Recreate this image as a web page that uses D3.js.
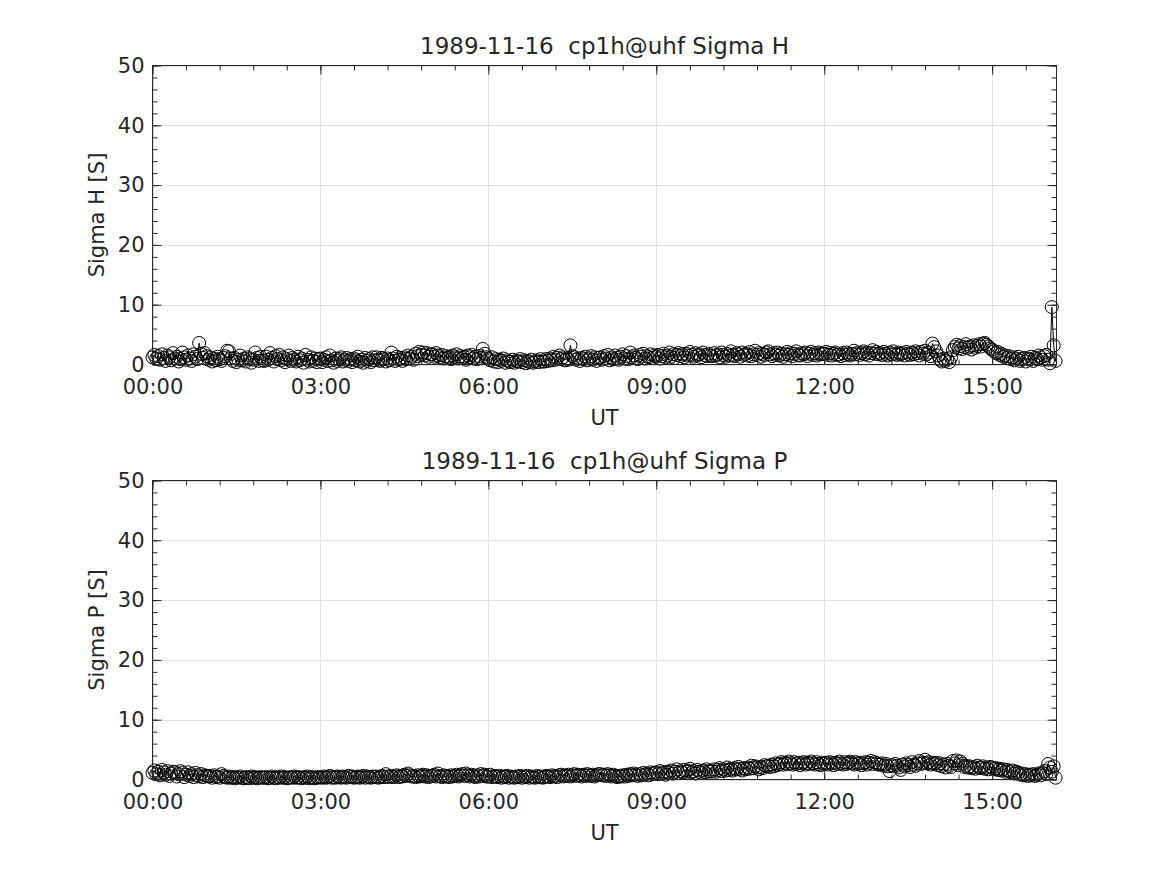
<!DOCTYPE html>
<html lang="en">
<head>
<meta charset="UTF-8">
<title>1989-11-16 cp1h@uhf Sigma H / Sigma P</title>
<script src="https://d3js.org/d3.v7.min.js"></script>
<style>
  body { margin: 0; background: #fff; }
  text { font-family: "DejaVu Sans", sans-serif; fill: #262626; }
</style>
</head>
<body>
<svg id="chart" width="1167" height="875"></svg>
<script>
// ---- data ----
const dateLabel = '1989-11-16';
const experiment = 'cp1h@uhf';
const stepMinutes = 2;           // sampling step, first sample at 00:00
const endMinutes = 969;          // x-axis end (~16:09)
const xTickMinutes = [0, 180, 360, 540, 720, 900];
const yTicks = [0, 10, 20, 30, 40, 50];

// one row per hour (30 samples), last row 16:00-16:08
const sigmaH = [
  1.2,1.6,1.0,1.4,0.8,1.7,1.1,0.6,1.5,1.2,0.7,1.9,1.0,1.3,0.5,0.9,2.0,1.2,0.8,1.5,1.0,0.6,1.7,1.3,0.9,3.6,1.8,1.1,1.9,1.4,
  0.8,1.2,0.5,1.0,0.7,1.3,0.9,0.6,1.1,1.4,2.3,2.2,1.0,0.6,1.1,0.4,0.8,1.5,0.7,1.0,0.5,1.2,0.9,0.3,0.8,2.0,1.1,0.6,1.3,0.7,
  0.6,1.3,0.8,1.9,1.1,0.5,1.4,0.9,1.6,0.7,1.2,0.4,0.9,1.5,0.6,1.1,0.8,0.5,1.3,0.7,1.0,0.3,1.6,0.8,0.5,1.2,0.6,1.0,0.4,0.9,
  1.0,0.4,0.8,1.2,0.6,1.5,0.7,0.3,1.0,0.6,0.9,1.2,0.5,0.8,1.1,0.6,0.9,0.4,1.0,0.7,1.3,0.5,0.8,0.3,1.1,0.6,0.9,0.4,1.2,0.7,
  1.2,0.8,0.6,1.1,0.9,0.5,1.0,0.7,2.0,1.0,0.6,1.3,0.8,1.1,0.6,1.2,0.9,1.5,1.0,1.3,0.8,1.8,1.4,2.1,1.6,2.0,1.5,1.9,1.3,1.7,
  1.7,1.3,1.9,1.5,1.2,1.6,1.0,1.4,1.1,1.3,0.9,1.5,1.2,1.7,1.0,1.4,1.1,1.3,0.8,1.5,1.2,1.6,1.0,1.3,0.9,1.4,1.1,2.6,1.8,1.2,
  1.0,0.7,1.2,0.5,0.9,0.4,0.8,0.6,1.0,0.3,0.7,0.5,0.4,0.8,0.3,0.6,0.5,0.9,0.4,0.7,0.2,0.6,0.4,0.8,0.3,0.5,0.7,0.4,0.9,0.5,
  0.5,0.9,0.6,1.0,0.7,1.3,0.8,1.1,1.5,0.9,1.2,0.7,1.0,0.8,3.2,1.4,1.2,0.8,1.0,0.6,1.1,0.9,1.3,0.7,1.0,1.4,0.8,1.2,0.6,1.1,
  1.2,0.8,1.4,1.0,1.6,0.7,1.2,0.9,1.5,1.1,0.8,1.3,1.7,1.0,1.4,0.9,2.0,1.2,1.5,1.1,0.9,1.6,1.3,1.8,1.0,1.4,1.2,1.7,1.1,1.5,
  1.3,1.6,1.0,1.4,1.8,1.2,1.5,2.0,1.3,1.7,1.1,1.6,1.9,1.4,1.7,1.2,1.8,1.5,2.1,1.6,1.3,1.9,1.5,1.7,1.2,2.0,1.6,1.4,1.8,1.5,
  1.4,1.9,1.5,1.7,1.2,2.0,1.6,1.3,1.8,1.5,2.2,1.6,1.4,1.9,1.7,1.3,2.0,1.6,1.8,1.5,2.1,1.4,1.7,2.3,1.6,1.9,1.3,1.8,1.6,2.0,
  2.2,1.7,1.4,1.9,1.6,2.0,1.5,1.8,1.3,1.7,2.1,1.6,1.9,1.4,1.8,2.2,1.6,1.5,1.9,1.7,2.0,1.4,1.8,2.1,1.6,1.9,1.5,2.0,1.7,1.8,
  1.8,2.1,1.6,1.9,1.5,1.8,2.0,1.6,1.7,1.4,1.9,1.6,2.0,1.7,1.5,1.8,2.3,1.7,2.0,1.6,1.9,2.2,1.7,2.0,1.5,1.9,2.4,1.8,2.1,1.7,
  1.9,1.6,2.1,1.8,1.5,2.0,1.7,2.2,1.8,1.6,2.0,1.7,1.9,1.5,2.1,1.8,1.6,2.0,1.7,2.2,1.9,1.5,2.1,1.8,2.3,1.7,2.0,1.4,3.5,2.9,
  2.2,1.5,0.8,0.5,1.0,0.6,0.9,0.4,1.2,2.4,2.9,3.3,2.7,3.1,2.6,2.9,3.4,2.8,3.0,2.5,3.2,2.8,3.1,3.4,3.0,3.5,3.6,3.3,3.0,2.7,
  2.5,2.2,1.9,2.1,1.6,1.8,1.3,1.5,1.1,1.4,0.9,1.2,0.7,1.0,1.3,0.6,0.9,1.1,0.5,1.0,0.8,1.3,0.6,1.1,0.9,1.5,1.2,0.8,1.4,1.6,
  0.8,0.2,9.6,3.2,0.6
];

const sigmaP = [
  1.1,1.5,0.9,1.3,0.7,1.6,1.2,0.8,1.4,0.6,1.0,1.3,1.2,0.5,0.9,1.4,1.1,0.4,0.8,1.2,0.6,0.9,0.4,1.1,0.7,0.5,0.9,0.4,0.7,0.6,
  0.5,0.6,0.3,0.7,0.4,0.5,0.3,0.9,0.6,0.4,0.3,0.5,0.3,0.4,0.2,0.4,0.3,0.5,0.3,0.2,0.4,0.3,0.2,0.5,0.3,0.4,0.2,0.3,0.4,0.3,
  0.3,0.4,0.2,0.3,0.5,0.3,0.2,0.4,0.3,0.5,0.3,0.4,0.2,0.3,0.4,0.3,0.5,0.3,0.4,0.3,0.2,0.4,0.3,0.5,0.2,0.4,0.3,0.2,0.4,0.3,
  0.4,0.3,0.5,0.3,0.4,0.6,0.3,0.4,0.3,0.5,0.4,0.3,0.5,0.4,0.3,0.6,0.4,0.5,0.3,0.4,0.5,0.3,0.4,0.6,0.3,0.5,0.4,0.3,0.5,0.4,
  0.5,0.3,0.4,0.6,0.4,0.9,0.5,0.4,0.6,0.4,0.5,0.7,0.4,0.6,0.5,0.8,0.6,1.0,0.7,0.5,0.6,0.4,0.7,0.5,0.6,0.8,0.5,0.7,0.4,0.6,
  0.6,0.8,0.5,1.0,0.6,0.4,0.7,0.5,0.6,0.4,0.7,0.5,0.6,0.8,0.5,0.7,0.9,0.6,1.0,0.7,0.5,0.8,0.6,0.4,0.7,0.5,0.9,0.6,0.8,0.5,
  0.5,0.8,0.4,0.6,0.5,0.4,0.6,0.3,0.5,0.4,0.6,0.3,0.5,0.4,0.3,0.5,0.4,0.6,0.3,0.5,0.4,0.6,0.3,0.5,0.4,0.3,0.6,0.4,0.5,0.3,
  0.4,0.6,0.5,0.4,0.7,0.5,0.6,0.4,0.7,0.8,0.5,0.7,0.6,0.8,0.5,0.7,0.9,0.6,0.8,0.7,0.5,0.8,0.6,0.9,0.7,0.6,0.8,0.5,0.7,0.9,
  0.9,0.7,0.8,0.6,0.9,0.7,0.5,0.8,0.6,0.4,0.6,0.5,0.7,0.5,0.8,0.6,0.9,0.7,1.0,0.8,0.6,0.9,0.7,1.1,0.8,1.0,0.7,1.2,0.9,1.1,
  1.2,0.9,1.4,1.0,1.2,0.8,1.3,1.1,1.5,1.0,1.3,1.7,1.1,1.4,1.2,1.6,1.3,1.5,1.8,1.2,1.4,1.0,1.6,1.3,1.1,1.5,1.2,1.7,1.4,1.3,
  1.4,1.7,1.3,1.6,1.9,1.4,1.7,1.5,2.0,1.6,1.8,1.5,1.9,1.7,2.1,1.8,1.5,1.9,1.7,2.0,1.8,2.3,1.9,2.2,2.0,1.7,2.1,1.9,2.4,2.2,
  2.3,2.1,2.5,2.2,2.7,2.4,2.6,2.9,2.5,2.8,2.6,3.0,2.7,2.5,2.9,2.6,2.8,2.4,2.7,2.9,2.5,2.8,2.6,3.0,2.7,2.5,2.9,2.6,2.4,2.8,
  2.6,2.8,2.5,2.9,2.7,2.4,2.8,2.6,3.0,2.7,2.5,2.9,2.6,2.8,3.0,2.7,2.5,2.9,2.6,2.8,2.4,2.7,2.9,2.5,2.8,3.1,2.6,2.9,2.7,2.5,
  2.5,2.7,2.3,2.6,2.2,1.4,2.4,2.2,2.6,2.3,2.0,1.6,2.5,2.2,2.7,2.4,2.1,2.9,2.5,2.3,2.7,3.1,2.6,2.8,3.3,2.7,2.9,2.5,2.8,2.6,
  2.8,2.4,2.7,2.2,2.5,2.0,2.6,2.3,2.1,3.1,2.7,3.2,2.4,3.0,2.6,2.1,2.3,2.0,2.2,1.9,2.1,1.8,2.3,2.0,1.9,2.2,1.8,2.0,1.7,2.1,
  2.0,1.7,1.9,1.6,1.8,1.5,1.7,1.3,1.6,1.4,1.2,1.5,1.0,1.3,1.1,0.8,1.0,0.7,0.9,0.6,0.8,0.7,0.9,0.6,0.8,1.0,0.7,1.1,1.4,0.9,
  2.6,2.0,1.3,2.2,0.3
];

// ---- layout ----
const svg = d3.select('#chart');
const left = 152.5, right = 1056.5, plotH = 299;
const ink = '#262626';

const panels = [
  { name: 'Sigma H', values: sigmaH, top: 65.5 },
  { name: 'Sigma P', values: sigmaP, top: 480.5 }
];

const x = d3.scaleLinear().domain([0, endMinutes]).range([left, right]);
const fmtTime = m => d3.format('02d')(Math.floor(m / 60)) + ':' + d3.format('02d')(m % 60);
const xMinor = d3.range(0, endMinutes, 36);
const yMinor = d3.range(0, 51, 2);

panels.forEach(p => {
  const y = d3.scaleLinear().domain([0, 50]).range([p.top + plotH, p.top]);
  const g = svg.append('g');
  const bottom = p.top + plotH;

  // grid
  g.append('g').selectAll('line').data(xTickMinutes).join('line')
    .attr('x1', d => Math.round(x(d)) + 0.5).attr('x2', d => Math.round(x(d)) + 0.5)
    .attr('y1', p.top).attr('y2', bottom)
    .attr('stroke', '#dfdfdf');
  g.append('g').selectAll('line').data(yTicks).join('line')
    .attr('x1', left).attr('x2', right)
    .attr('y1', d => Math.round(y(d)) + 0.5).attr('y2', d => Math.round(y(d)) + 0.5)
    .attr('stroke', '#dfdfdf');

  // data
  const pts = p.values.map((v, i) => ({ t: i * stepMinutes, v }));
  g.append('path').datum(pts)
    .attr('fill', 'none').attr('stroke', '#000').attr('stroke-width', 1)
    .attr('d', d3.line().x(d => x(d.t)).y(d => y(d.v)));
  g.append('g').selectAll('circle').data(pts).join('circle')
    .attr('cx', d => x(d.t)).attr('cy', d => y(d.v)).attr('r', 6.5)
    .attr('fill', 'none').attr('stroke', '#000').attr('stroke-width', 1);

  // ticks (inward, all sides)
  const style = sel => { sel.select('.domain').remove(); sel.selectAll('line').attr('stroke', ink); sel.selectAll('text').attr('font-size', 21).attr('fill', ink).attr('font-family', '"DejaVu Sans", sans-serif'); };
  g.append('g').attr('transform', `translate(0,${bottom})`)
    .call(d3.axisBottom(x).tickValues(xTickMinutes).tickFormat(fmtTime).tickSize(-9).tickPadding(15)).call(style);
  g.append('g').attr('transform', `translate(0,${bottom})`)
    .call(d3.axisBottom(x).tickValues(xMinor).tickFormat('').tickSize(-5)).call(style);
  g.append('g').attr('transform', `translate(0,${p.top})`)
    .call(d3.axisTop(x).tickValues(xTickMinutes).tickFormat('').tickSize(-9)).call(style);
  g.append('g').attr('transform', `translate(0,${p.top})`)
    .call(d3.axisTop(x).tickValues(xMinor).tickFormat('').tickSize(-5)).call(style);
  g.append('g').attr('transform', `translate(${left},0)`)
    .call(d3.axisLeft(y).tickValues(yTicks).tickSize(-9).tickPadding(8)).call(style);
  g.append('g').attr('transform', `translate(${left},0)`)
    .call(d3.axisLeft(y).tickValues(yMinor).tickFormat('').tickSize(-5)).call(style);
  g.append('g').attr('transform', `translate(${right},0)`)
    .call(d3.axisRight(y).tickValues(yTicks).tickFormat('').tickSize(-9)).call(style);
  g.append('g').attr('transform', `translate(${right},0)`)
    .call(d3.axisRight(y).tickValues(yMinor).tickFormat('').tickSize(-5)).call(style);

  // box
  g.append('rect').attr('x', left).attr('y', p.top).attr('width', right - left).attr('height', plotH)
    .attr('fill', 'none').attr('stroke', ink).attr('stroke-width', 1);

  // labels
  const cx = (left + right) / 2;
  g.append('text').attr('x', cx).attr('y', p.top - 12).attr('text-anchor', 'middle')
    .attr('font-size', 23).style('white-space', 'pre')
    .text(`${dateLabel}  ${experiment} ${p.name}`);
  g.append('text').attr('x', cx).attr('y', bottom + 60).attr('text-anchor', 'middle')
    .attr('font-size', 21).text('UT');
  g.append('text').attr('transform', `translate(104,${p.top + plotH / 2}) rotate(-90)`)
    .attr('text-anchor', 'middle').attr('font-size', 21).text(`${p.name} [S]`);
});
</script>
</body>
</html>
